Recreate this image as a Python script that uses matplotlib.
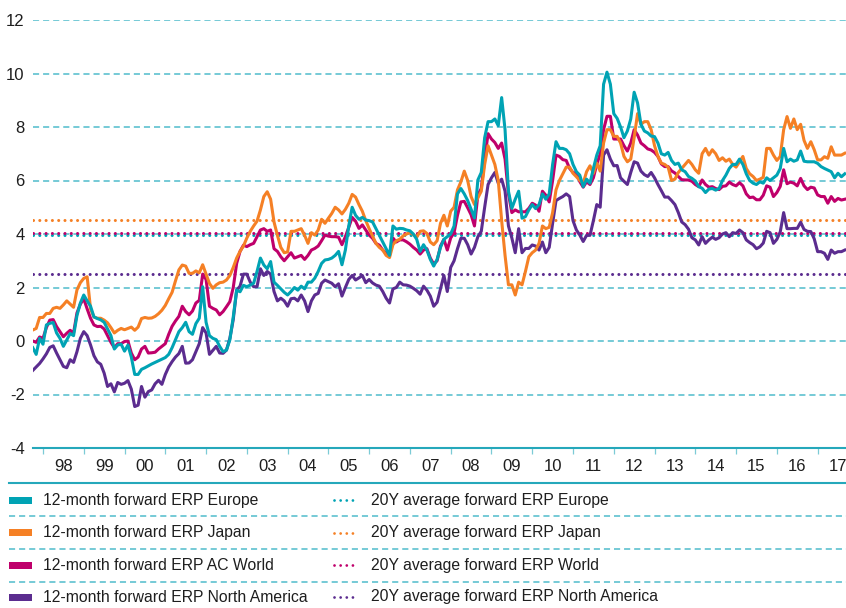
import numpy as np
import pandas as pd
import matplotlib
matplotlib.use('Agg')
import matplotlib.pyplot as plt
from matplotlib.lines import Line2D
from matplotlib.patches import Rectangle

##################################################################
# 12-month forward equity risk premium by region, monthly, Oct 1997 - Sep 2017

months = pd.date_range('1997-10-01', periods=240, freq='MS')

erp_europe = [
    -0.25, -0.50, 0.10, -0.12, 0.60, 0.66, 0.69, 0.30, 0.10, -0.20,
    0.04, 0.28, 0.20, 0.95, 1.42, 1.72, 1.50, 1.30, 0.90, 0.84,
    0.79, 0.70, 0.45, 0.20, -0.30, -0.15, -0.12, -0.38, -0.15, -0.60,
    -1.25, -1.25, -1.06, -1.00, -0.93, -0.86, -0.80, -0.74, -0.68, -0.62,
    -0.50, -0.25, 0.05, 0.35, 0.50, 0.70, 0.35, 0.25, 0.65, 0.85,
    2.03, 0.70, 0.20, 0.10, 0.05, -0.20, -0.40, -0.34, 0.04, 0.90,
    1.90, 1.84, 2.08, 2.03, 2.09, 2.16, 2.60, 3.10, 2.84, 2.70,
    2.97, 2.20, 2.08, 1.95, 1.82, 1.72, 1.85, 2.00, 1.90, 2.05,
    1.95, 2.20, 2.20, 2.35, 2.60, 2.90, 3.03, 3.05, 3.10, 3.20,
    3.35, 2.85, 3.40, 4.30, 5.00, 4.70, 4.55, 4.62, 4.52, 4.50,
    4.45, 4.20, 3.95, 3.70, 3.45, 3.20, 4.30, 4.18, 4.21, 4.20,
    4.15, 4.12, 4.00, 3.80, 3.35, 3.60, 3.40, 3.05, 2.80, 3.05,
    3.50, 3.80, 3.90, 4.00, 4.30, 5.50, 5.70, 5.50, 5.25, 4.93,
    4.60, 6.02, 6.30, 7.60, 8.20, 8.20, 8.30, 8.05, 9.10, 7.90,
    5.60, 4.96, 5.30, 5.60, 4.59, 4.65, 4.90, 5.10, 4.95, 5.10,
    5.50, 5.30, 5.50, 6.60, 7.45, 7.20, 7.20, 7.15, 7.00, 6.60,
    6.33, 6.20, 5.77, 6.05, 5.90, 6.45, 6.95, 7.30, 9.60, 10.05,
    9.60, 8.50, 8.32, 8.00, 7.60, 7.85, 8.30, 9.30, 8.90, 8.10,
    7.85, 7.78, 7.66, 7.64, 7.40, 7.00, 6.95, 7.05, 6.75, 6.60,
    6.65, 6.40, 6.33, 6.15, 6.08, 5.98, 5.77, 5.71, 5.55, 5.68,
    5.70, 5.64, 5.70, 6.00, 6.20, 6.45, 6.60, 6.60, 6.80, 6.60,
    6.25, 6.00, 5.90, 5.85, 5.95, 5.90, 6.10, 6.00, 6.10, 6.20,
    6.45, 7.20, 6.70, 6.80, 6.72, 6.77, 7.10, 6.72, 6.70, 6.70,
    6.70, 6.64, 6.52, 6.45, 6.39, 6.33, 6.10, 6.27, 6.14, 6.25]

erp_japan = [
    0.41, 0.47, 0.88, 0.88, 1.03, 1.03, 1.22, 1.26, 1.22, 1.35,
    1.50, 1.38, 1.26, 1.91, 2.18, 2.34, 2.40, 1.20, 0.90, 0.85,
    0.85, 0.78, 0.68, 0.50, 0.30, 0.40, 0.47, 0.42, 0.47, 0.52,
    0.40, 0.52, 0.84, 0.88, 0.85, 0.86, 0.92, 1.02, 1.15, 1.33,
    1.58, 1.82, 2.25, 2.66, 2.84, 2.80, 2.53, 2.53, 2.62, 2.55,
    2.85, 2.50, 2.15, 1.97, 2.10, 2.18, 2.20, 2.28, 2.45, 2.75,
    3.10, 3.35, 3.55, 3.85, 4.10, 4.30, 4.48, 4.90, 5.40, 5.58,
    5.30, 4.45, 3.95, 3.50, 3.30, 3.33, 4.10, 4.10, 4.15, 4.20,
    3.95, 3.65, 4.05, 3.96, 4.15, 4.55, 4.40, 4.59, 4.77, 5.00,
    4.90, 4.75, 4.92, 5.15, 5.48, 5.38, 5.10, 4.85, 4.50, 4.20,
    3.92, 3.65, 3.50, 3.40, 3.20, 3.12, 3.60, 3.75, 3.80, 3.93,
    4.00, 4.05, 3.98, 3.88, 4.10, 4.12, 4.02, 3.70, 3.60, 3.75,
    4.40, 4.70, 4.30, 4.85, 5.00, 5.65, 5.95, 6.35, 6.00, 5.40,
    5.10, 5.35, 5.60, 6.60, 7.30, 6.95, 6.60, 6.00, 4.50, 3.20,
    2.10, 2.10, 1.72, 2.20, 2.10, 2.60, 3.15, 3.30, 3.40, 3.65,
    4.30, 4.20, 4.25, 4.80, 5.65, 6.00, 6.25, 6.50, 6.50, 6.27,
    6.14, 6.00, 5.90, 6.33, 6.55, 6.27, 6.65, 6.35, 7.40, 7.90,
    7.90, 7.65, 7.65, 7.40, 6.90, 6.70, 6.80, 7.60, 8.50, 8.10,
    8.20, 8.20, 7.90, 7.30, 6.90, 6.65, 6.60, 6.50, 6.00, 6.05,
    6.30, 6.45, 6.60, 6.75, 6.60, 6.40, 6.27, 7.00, 7.20, 6.95,
    7.15, 7.00, 6.75, 6.85, 6.72, 6.80, 6.60, 6.50, 6.70, 6.90,
    6.45, 6.25, 6.15, 6.00, 6.05, 6.12, 7.20, 7.20, 6.95, 6.75,
    6.90, 7.90, 8.39, 7.95, 8.30, 7.90, 8.10, 7.50, 7.20, 7.45,
    7.15, 6.77, 6.77, 6.89, 6.83, 7.26, 6.95, 6.95, 6.95, 7.02]

erp_world = [
    0.00, -0.05, 0.15, 0.10, 0.50, 0.78, 0.80, 0.54, 0.35, 0.16,
    0.29, 0.40, 0.30, 1.05, 1.38, 1.58, 1.20, 0.85, 0.60, 0.54,
    0.55, 0.45, 0.20, -0.05, -0.25, -0.10, -0.10, -0.02, 0.00, -0.45,
    -0.70, -0.60, -0.30, -0.20, -0.45, -0.44, -0.42, -0.30, -0.20, -0.10,
    0.25, 0.55, 0.75, 0.92, 1.30, 1.10, 0.98, 1.12, 1.42, 1.52,
    2.50, 2.30, 1.30, 1.22, 1.16, 0.98, 1.10, 1.28, 1.47, 2.00,
    2.90, 3.35, 3.58, 3.53, 3.60, 3.65, 3.90, 4.15, 4.20, 4.10,
    4.15, 3.45, 3.35, 3.15, 3.00, 3.15, 3.30, 3.10, 3.15, 3.20,
    3.05, 3.20, 3.40, 3.46, 3.55, 3.75, 3.96, 3.92, 3.90, 3.90,
    3.88, 3.60, 3.90, 4.25, 4.62, 4.48, 4.21, 4.34, 4.15, 3.96,
    3.84, 3.65, 3.58, 3.40, 3.28, 3.21, 3.85, 3.70, 3.78, 3.78,
    3.71, 3.62, 3.50, 3.40, 3.25, 3.40, 3.45, 3.10, 2.88, 3.00,
    3.55, 3.80, 3.40, 3.85, 4.05, 4.70, 5.20, 5.22, 4.98, 4.72,
    4.30, 5.46, 5.70, 6.80, 7.75, 7.55, 7.42, 7.20, 7.40, 6.80,
    5.50, 4.80, 4.90, 4.83, 4.83, 4.83, 4.96, 5.15, 5.08, 4.85,
    5.60, 5.45, 5.20, 6.00, 6.95, 6.90, 6.78, 6.75, 6.45, 6.30,
    6.27, 5.96, 5.75, 5.95, 5.85, 6.10, 6.60, 7.00, 7.90, 8.40,
    8.40, 7.55, 7.55, 7.55, 7.30, 7.10, 7.40, 7.90, 7.70, 7.40,
    7.30, 7.18, 7.14, 7.05, 6.90, 6.62, 6.52, 6.52, 6.36, 6.28,
    6.15, 6.03, 6.02, 6.02, 5.97, 5.85, 5.77, 6.02, 5.85, 5.75,
    5.77, 5.70, 5.66, 5.78, 5.80, 5.94, 5.85, 5.80, 5.92, 5.80,
    5.50, 5.36, 5.38, 5.28, 5.28, 5.45, 5.80, 5.75, 5.40, 5.55,
    5.78, 6.40, 5.88, 5.94, 5.90, 5.80, 6.08, 5.80, 5.66, 5.75,
    5.72, 5.46, 5.40, 5.40, 5.15, 5.40, 5.22, 5.33, 5.27, 5.30]

erp_namerica = [
    -1.10, -0.97, -0.84, -0.67, -0.48, -0.24, -0.18, -0.45, -0.70, -0.95,
    -1.00, -0.70, -0.80, -0.40, 0.10, 0.35, 0.20, -0.15, -0.55, -0.78,
    -0.87, -1.20, -1.70, -1.60, -1.90, -1.55, -1.62, -1.58, -1.48, -1.80,
    -2.45, -2.40, -1.70, -2.10, -1.89, -1.83, -1.60, -1.47, -1.62, -1.25,
    -0.97, -0.77, -0.60, -0.47, -0.20, -0.83, -0.82, -0.70, -0.40, -0.10,
    0.50, 0.30, -0.50, -0.35, -0.20, -0.45, -0.46, -0.34, 0.10, 0.80,
    1.90, 2.05, 2.50, 2.50, 2.20, 2.03, 2.03, 2.70, 2.45, 2.60,
    2.50, 1.85, 1.50, 1.60, 1.50, 1.30, 1.58, 1.60, 1.50, 1.72,
    1.50, 1.10, 1.50, 1.72, 1.78, 2.16, 2.28, 2.22, 2.16, 2.03,
    2.14, 1.68, 2.00, 2.30, 2.45, 2.28, 2.36, 2.45, 2.18, 2.30,
    2.17, 2.09, 2.05, 1.85, 1.60, 1.42, 1.95, 2.00, 2.20, 2.10,
    2.09, 2.05, 1.97, 1.88, 1.75, 2.05, 1.90, 1.68, 1.30, 1.45,
    1.95, 2.45, 1.85, 2.75, 3.00, 3.45, 3.84, 3.84, 3.60, 3.25,
    3.50, 3.90, 4.10, 5.00, 5.85, 6.10, 6.30, 5.90, 6.05, 5.60,
    4.30, 3.85, 3.30, 4.20, 3.30, 3.46, 3.46, 3.59, 3.55, 3.40,
    3.70, 3.30, 3.50, 4.40, 5.25, 5.33, 5.40, 5.50, 5.40, 4.50,
    4.15, 3.96, 3.72, 3.95, 3.95, 4.50, 5.10, 5.00, 6.95, 7.15,
    6.80, 6.55, 6.56, 6.10, 5.97, 5.85, 6.30, 6.70, 6.65, 6.35,
    6.22, 6.15, 6.30, 6.10, 5.85, 5.62, 5.38, 5.38, 5.25, 5.10,
    4.80, 4.45, 4.35, 4.18, 3.86, 3.78, 3.59, 3.90, 3.65, 3.78,
    3.88, 3.80, 3.86, 4.00, 4.05, 3.90, 4.05, 4.02, 4.15, 4.05,
    3.78, 3.68, 3.60, 3.45, 3.52, 3.66, 4.10, 4.05, 3.65, 3.80,
    4.08, 4.80, 4.20, 4.20, 4.21, 4.21, 4.44, 4.17, 4.10, 4.09,
    3.82, 3.34, 3.34, 3.28, 3.05, 3.40, 3.28, 3.34, 3.34, 3.40]

# 20-year averages
avg_europe = 3.97
avg_japan = 4.52
avg_world = 4.05
avg_namerica = 2.49

year_labels = ['98', '99', '00', '01', '02', '03', '04', '05', '06', '07',
               '08', '09', '10', '11', '12', '13', '14', '15', '16', '17']

line_labels = ['12-month forward ERP Europe', '12-month forward ERP Japan',
               '12-month forward ERP AC World', '12-month forward ERP North America']
avg_labels = ['20Y average forward ERP Europe', '20Y average forward ERP Japan',
              '20Y average forward ERP World', '20Y average forward ERP North America']

TEAL = '#00a3b4'
ORANGE = '#f58025'
MAGENTA = '#bf006b'
PURPLE = '#5b2c8f'
GRID = '#4fbccb'
TXT = '#1e1e1e'

plt.rcParams['font.family'] = ['Liberation Sans', 'DejaVu Sans']

W, H = 846, 608
fig = plt.figure(figsize=(W / 100, H / 100), dpi=100)
ax = fig.add_axes([33 / W, 1 - 448 / H, 813 / W, 428 / H])

t = months.year + (months.month - 1) / 12.0

dotted = dict(linestyle=(0, (0.01, 2.05)), dash_capstyle='round', lw=2.2, zorder=2)
ax.axhline(avg_namerica, color=PURPLE, **dotted)
ax.axhline(avg_japan, color=ORANGE, **dotted)
ax.axhline(avg_europe, color=TEAL, **dotted)
ax.axhline(avg_world, color=MAGENTA, **dotted)

lw = 2.2
ax.plot(t, erp_namerica, color=PURPLE, lw=lw, zorder=3, solid_joinstyle='round')
ax.plot(t, erp_world, color=MAGENTA, lw=lw, zorder=4, solid_joinstyle='round')
ax.plot(t, erp_japan, color=ORANGE, lw=lw, zorder=5, solid_joinstyle='round')
ax.plot(t, erp_europe, color=TEAL, lw=lw, zorder=6, solid_joinstyle='round')

ax.set_xlim(1997.755, 2017.696)
ax.set_ylim(-4, 12)
ax.set_yticks(np.arange(-4, 13, 2))
ax.set_yticklabels([str(v) for v in range(-4, 13, 2)])
ax.grid(axis='y', color=GRID, linestyle=(0, (4.0, 2.6)), lw=1.1, zorder=1)

years = np.arange(1998, 2018)
ax.set_xticks(years + 0.5)
ax.set_xticklabels(year_labels)
ax.set_xticks(years, minor=True)

for s in ['top', 'right', 'left']:
    ax.spines[s].set_visible(False)
ax.spines['bottom'].set_color('#25a8bb')
ax.spines['bottom'].set_linewidth(1.5)
ax.spines['bottom'].set_zorder(7)

ax.tick_params(axis='y', length=0, pad=6, labelsize=12, labelcolor=TXT)
ax.tick_params(axis='x', which='major', length=0, pad=8, labelsize=12, labelcolor=TXT)
ax.tick_params(axis='x', which='minor', length=4.5, width=0.9, color='#7ccbd6')

# legend panel below the axes, laid out in figure pixels
def fx(px):
    return px / W

def fy(py):
    return 1 - py / H

fig.add_artist(Line2D([fx(9), fx(846)], [fy(482.7), fy(482.7)], color='#25a8bb', lw=1.5))
for yy in [516, 549.3, 581.7]:
    fig.add_artist(Line2D([fx(9), fx(846)], [fy(yy), fy(yy)], color=GRID,
                          lw=1.1, linestyle=(0, (4.0, 2.6))))

row_y = [500, 532.7, 565.3, 597]
row_colors = [TEAL, ORANGE, MAGENTA, PURPLE]
for yy, c, lab, alab in zip(row_y, row_colors, line_labels, avg_labels):
    fig.add_artist(Rectangle((fx(9), fy(yy + 3.5)), 23 / W, 7 / H, color=c, lw=0))
    fig.text(fx(43), fy(yy), lab, fontsize=11.3, color=TXT, va='center', ha='left')
    fig.add_artist(Line2D([fx(334), fx(354)], [fy(yy), fy(yy)], color=c, lw=2.0,
                          linestyle=(0, (0.01, 2.2)), dash_capstyle='round'))
    fig.text(fx(371), fy(yy), alab, fontsize=11.3, color=TXT, va='center', ha='left')

fig.savefig('out.png', dpi=100)
